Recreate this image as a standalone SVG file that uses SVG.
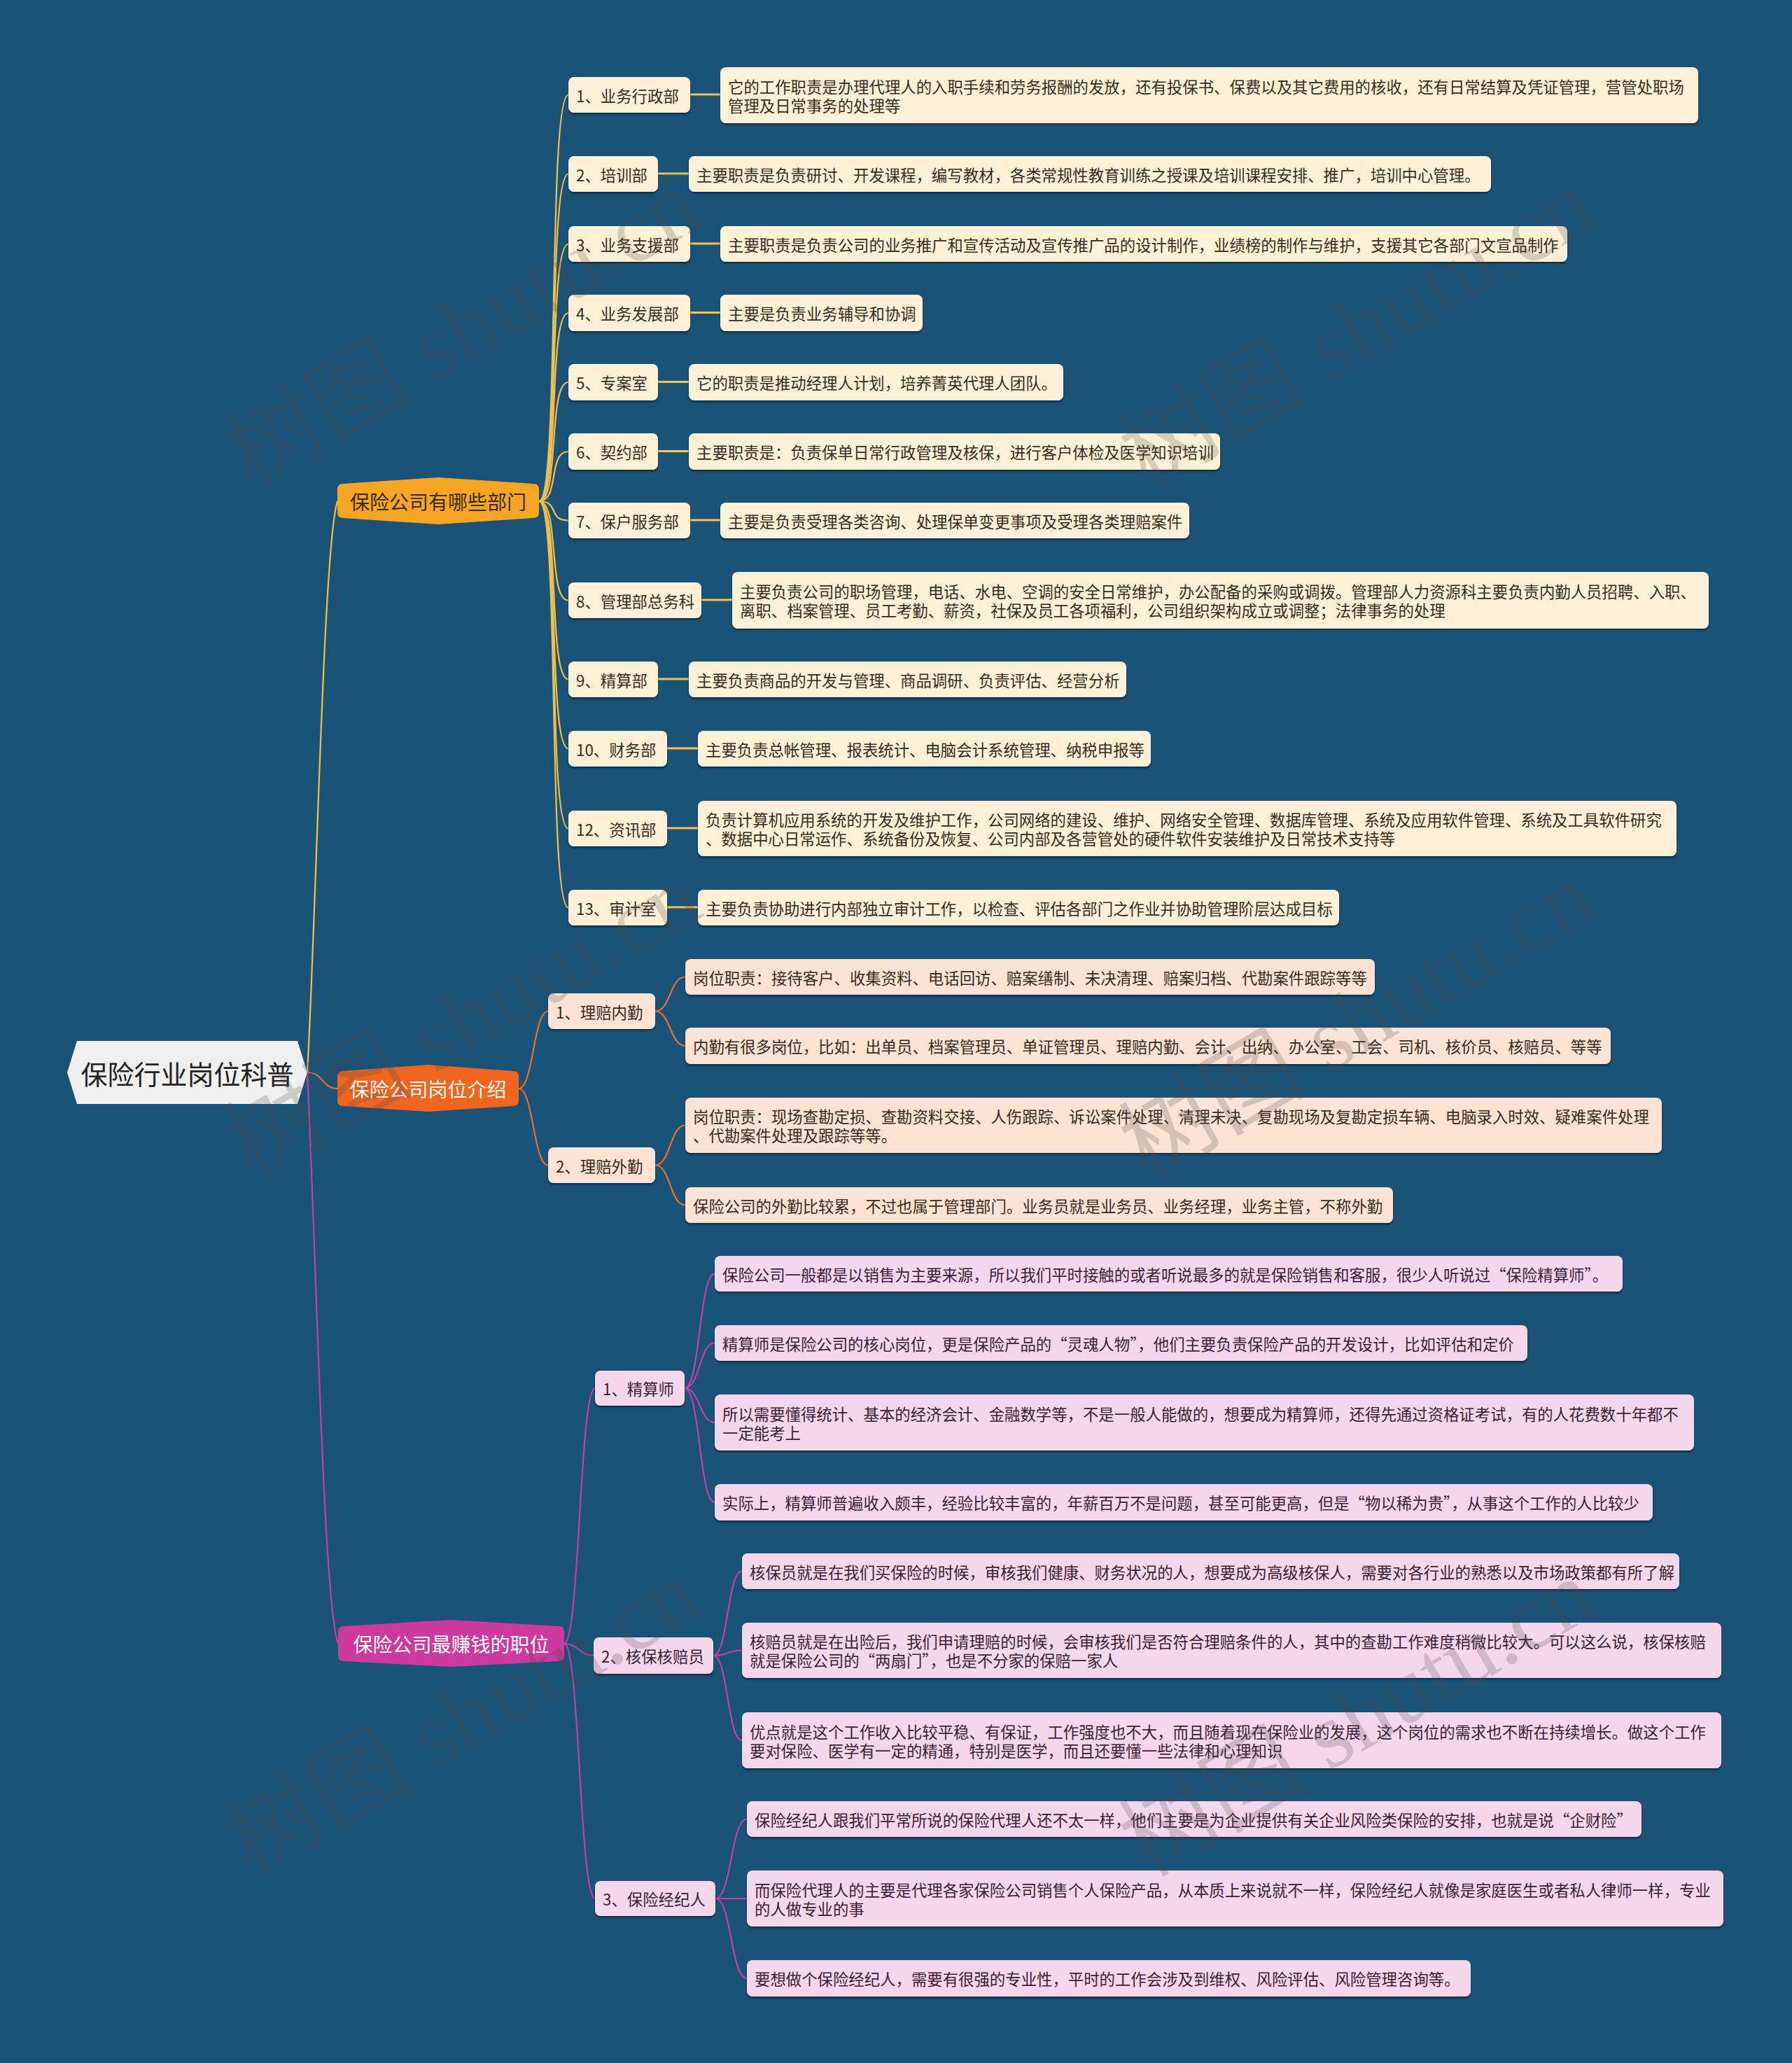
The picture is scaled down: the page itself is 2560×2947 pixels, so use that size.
<svg xmlns="http://www.w3.org/2000/svg" width="2560" height="2947" viewBox="0 0 2560 2947">
<defs>
<style>
text{font-family:"Noto Sans CJK SC","Noto Sans",sans-serif;dominant-baseline:central}
.t{font-size:22.4px;fill:#3a2a1c}
.tp{font-size:22.4px;fill:#3a1f33}
.k1 rect{fill:#FEF1D8;filter:url(#sh)}
.k2 rect{fill:#FDE3D3;filter:url(#sh)}
.k3 rect{fill:#F5D7EC;filter:url(#sh)}
.c1{fill:none;stroke:#F2C04A;stroke-width:2.2}
.c2{fill:none;stroke:#E3702C;stroke-width:2.2}
.c3{fill:none;stroke:#C03FAE;stroke-width:2.2}
.h1{stroke:#E8C66A;stroke-width:3}
.h1d{stroke:#5a4a22;stroke-width:1.4}
.wm{font-family:"Liberation Serif","Noto Sans CJK SC",serif;font-size:134px;fill:#4a4a4a;fill-opacity:0.22;dominant-baseline:auto}
</style>
<filter id="sh" x="-5%" y="-20%" width="110%" height="150%">
<feDropShadow dx="0" dy="2.5" stdDeviation="0.8" flood-color="#0b2333" flood-opacity="0.75"/>
</filter>
</defs>
<rect width="2560" height="2947" fill="#1B5378"/>

<g id="connectors">
<path class="c1" stroke-width="3" d="M439 1532 C452 1300 462 780 482 716"/>
<path class="c2" stroke-width="3" d="M439 1532 C462 1532 460 1555 482 1555"/>
<path class="c3" stroke-width="3" d="M439 1532 C452 1800 462 2290 483 2348"/>
<path class="c1" d="M770 716 C800 716 782 135.5 812 135.5"/>
<path class="c1" d="M770 716 C800 716 782 248.5 812 248.5"/>
<path class="c1" d="M770 716 C800 716 782 348.5 812 348.5"/>
<path class="c1" d="M770 716 C800 716 782 447 812 447"/>
<path class="c1" d="M770 716 C800 716 782 546 812 546"/>
<path class="c1" d="M770 716 C800 716 782 645 812 645"/>
<path class="c1" d="M770 716 C800 716 782 743.5 812 743.5"/>
<path class="c1" d="M770 716 C800 716 782 857.5 812 857.5"/>
<path class="c1" d="M770 716 C800 716 782 970.5 812 970.5"/>
<path class="c1" d="M770 716 C800 716 782 1069.5 812 1069.5"/>
<path class="c1" d="M770 716 C800 716 782 1183.5 812 1183.5"/>
<path class="c1" d="M770 716 C800 716 782 1296.5 812 1296.5"/>
<g>
<line class="h1" x1="986" y1="135" x2="1029" y2="135"/><line class="h1d" x1="986" y1="137.5" x2="1029" y2="137.5"/>
<line class="h1" x1="940" y1="248" x2="984" y2="248"/><line class="h1d" x1="940" y1="250.5" x2="984" y2="250.5"/>
<line class="h1" x1="986" y1="348" x2="1029" y2="348"/><line class="h1d" x1="986" y1="350.5" x2="1029" y2="350.5"/>
<line class="h1" x1="986" y1="446.5" x2="1029" y2="446.5"/><line class="h1d" x1="986" y1="449" x2="1029" y2="449"/>
<line class="h1" x1="940" y1="545.5" x2="984" y2="545.5"/><line class="h1d" x1="940" y1="548" x2="984" y2="548"/>
<line class="h1" x1="940" y1="644.5" x2="984" y2="644.5"/><line class="h1d" x1="940" y1="647" x2="984" y2="647"/>
<line class="h1" x1="986" y1="743" x2="1029" y2="743"/><line class="h1d" x1="986" y1="745.5" x2="1029" y2="745.5"/>
<line class="h1" x1="1002" y1="857" x2="1046" y2="857"/><line class="h1d" x1="1002" y1="859.5" x2="1046" y2="859.5"/>
<line class="h1" x1="940" y1="970" x2="984" y2="970"/><line class="h1d" x1="940" y1="972.5" x2="984" y2="972.5"/>
<line class="h1" x1="953" y1="1069" x2="997" y2="1069"/><line class="h1d" x1="953" y1="1071.5" x2="997" y2="1071.5"/>
<line class="h1" x1="953" y1="1183" x2="997" y2="1183"/><line class="h1d" x1="953" y1="1185.5" x2="997" y2="1185.5"/>
<line class="h1" x1="953" y1="1296" x2="997" y2="1296"/><line class="h1d" x1="953" y1="1298.5" x2="997" y2="1298.5"/>
</g>
<path class="c2" d="M741 1555 C762 1555 762 1444.5 783 1444.5"/>
<path class="c2" d="M741 1555 C762 1555 762 1664.5 783 1664.5"/>
<path class="c2" d="M936 1444.5 C958 1444.5 957 1395.5 979 1395.5"/>
<path class="c2" d="M936 1444.5 C958 1444.5 957 1494 979 1494"/>
<path class="c2" d="M936 1664.5 C958 1664.5 957 1607.5 979 1607.5"/>
<path class="c2" d="M936 1664.5 C958 1664.5 957 1721.5 979 1721.5"/>
<path class="c3" d="M806 2348 C828 2348 828 1983 850 1983"/>
<path class="c3" d="M806 2348 C827 2348 827 2365 848 2365"/>
<path class="c3" d="M806 2348 C828 2348 828 2712 850 2712"/>
<path class="c3" d="M978 1983 C1000 1983 999 1819.5 1021 1819.5"/>
<path class="c3" d="M978 1983 C1000 1983 999 1918.5 1021 1918.5"/>
<path class="c3" d="M978 1983 C1000 1983 999 2032 1021 2032"/>
<path class="c3" d="M978 1983 C1000 1983 999 2146 1021 2146"/>
<path class="c3" d="M1019 2365 C1040 2365 1039 2244.5 1060 2244.5"/>
<path class="c3" d="M1019 2365 C1040 2365 1039 2357.5 1060 2357.5"/>
<path class="c3" d="M1019 2365 C1040 2365 1039 2486 1060 2486"/>
<path class="c3" d="M1022 2712 C1045 2712 1044 2598.5 1067 2598.5"/>
<path class="c3" d="M1022 2712 C1045 2712 1044 2712 1067 2712"/>
<path class="c3" d="M1022 2712 C1045 2712 1044 2826 1067 2826"/>
</g>

<g id="root">
<polygon points="96,1532 110,1487 425,1487 439,1532 425,1577 110,1577" fill="#EFEFEF"/>
<text x="267.5" y="1532" font-size="38" fill="#222" text-anchor="middle">保险行业岗位科普</text>
</g>

<g id="b1">
<path d="M490 691 L626 682 L762 691 Q770 691 770 699 L770 732 Q770 740 762 740 L626 749 L490 740 Q482 740 482 732 L482 699 Q482 691 490 691 Z" fill="#F6A623"/>
<text x="626" y="716" font-size="28" fill="#3a2a10" text-anchor="middle">保险公司有哪些部门</text>
</g>
<g id="b2">
<path d="M490 1530 L611.5 1521 L733 1530 Q741 1530 741 1538 L741 1572 Q741 1580 733 1580 L611.5 1588 L490 1580 Q482 1580 482 1572 L482 1538 Q482 1530 490 1530 Z" fill="#F0661E"/>
<text x="611.5" y="1555" font-size="28" fill="#fff" text-anchor="middle">保险公司岗位介绍</text>
</g>
<g id="b3">
<path d="M491 2323 L644.5 2314 L798 2323 Q806 2323 806 2331 L806 2365 Q806 2373 798 2373 L644.5 2381 L491 2373 Q483 2373 483 2365 L483 2331 Q483 2323 491 2323 Z" fill="#CB3A9C"/>
<text x="644.5" y="2348" font-size="28" fill="#fff" text-anchor="middle">保险公司最赚钱的职位</text>
</g>

<g id="b1-1" class="k1"><rect x="812" y="110" width="174" height="51" rx="8"/><text class="t" x="823" y="135.5">1、业务行政部</text></g>
<g id="b1-1d" class="k1"><rect x="1029" y="96" width="1397" height="80" rx="8"/><text class="t" x="1040" y="122.5">它的工作职责是办理代理人的入职手续和劳务报酬的发放，还有投保书、保费以及其它费用的核收，还有日常结算及凭证管理，营管处职场</text><text class="t" x="1040" y="149.5">管理及日常事务的处理等</text></g>
<g id="b1-2" class="k1"><rect x="812" y="223" width="128" height="51" rx="8"/><text class="t" x="823" y="248.5">2、培训部</text></g>
<g id="b1-2d" class="k1"><rect x="984" y="223" width="1146" height="51" rx="8"/><text class="t" x="995" y="248.5">主要职责是负责研讨、开发课程，编写教材，各类常规性教育训练之授课及培训课程安排、推广，培训中心管理。</text></g>
<g id="b1-3" class="k1"><rect x="812" y="323" width="174" height="51" rx="8"/><text class="t" x="823" y="348.5">3、业务支援部</text></g>
<g id="b1-3d" class="k1"><rect x="1029" y="323" width="1210" height="51" rx="8"/><text class="t" x="1040" y="348.5">主要职责是负责公司的业务推广和宣传活动及宣传推广品的设计制作，业绩榜的制作与维护，支援其它各部门文宣品制作</text></g>
<g id="b1-4" class="k1"><rect x="812" y="421" width="174" height="52" rx="8"/><text class="t" x="823" y="447">4、业务发展部</text></g>
<g id="b1-4d" class="k1"><rect x="1029" y="421" width="289" height="52" rx="8"/><text class="t" x="1040" y="447">主要是负责业务辅导和协调</text></g>
<g id="b1-5" class="k1"><rect x="812" y="520" width="128" height="52" rx="8"/><text class="t" x="823" y="546">5、专案室</text></g>
<g id="b1-5d" class="k1"><rect x="984" y="520" width="535" height="52" rx="8"/><text class="t" x="995" y="546">它的职责是推动经理人计划，培养菁英代理人团队。</text></g>
<g id="b1-6" class="k1"><rect x="812" y="619" width="128" height="52" rx="8"/><text class="t" x="823" y="645">6、契约部</text></g>
<g id="b1-6d" class="k1"><rect x="984" y="619" width="759" height="52" rx="8"/><text class="t" x="995" y="645">主要职责是：负责保单日常行政管理及核保，进行客户体检及医学知识培训</text></g>
<g id="b1-7" class="k1"><rect x="812" y="718" width="174" height="51" rx="8"/><text class="t" x="823" y="743.5">7、保户服务部</text></g>
<g id="b1-7d" class="k1"><rect x="1029" y="718" width="670" height="51" rx="8"/><text class="t" x="1040" y="743.5">主要是负责受理各类咨询、处理保单变更事项及受理各类理赔案件</text></g>
<g id="b1-8" class="k1"><rect x="812" y="832" width="190" height="51" rx="8"/><text class="t" x="823" y="857.5">8、管理部总务科</text></g>
<g id="b1-8d" class="k1"><rect x="1046" y="817" width="1395" height="81" rx="8"/><text class="t" x="1057" y="844">主要负责公司的职场管理，电话、水电、空调的安全日常维护，办公配备的采购或调拨。管理部人力资源科主要负责内勤人员招聘、入职、</text><text class="t" x="1057" y="871">离职、档案管理、员工考勤、薪资，社保及员工各项福利，公司组织架构成立或调整；法律事务的处理</text></g>
<g id="b1-9" class="k1"><rect x="812" y="945" width="128" height="51" rx="8"/><text class="t" x="823" y="970.5">9、精算部</text></g>
<g id="b1-9d" class="k1"><rect x="984" y="945" width="625" height="51" rx="8"/><text class="t" x="995" y="970.5">主要负责商品的开发与管理、商品调研、负责评估、经营分析</text></g>
<g id="b1-10" class="k1"><rect x="812" y="1044" width="141" height="51" rx="8"/><text class="t" x="823" y="1069.5">10、财务部</text></g>
<g id="b1-10d" class="k1"><rect x="997" y="1044" width="647" height="51" rx="8"/><text class="t" x="1008" y="1069.5">主要负责总帐管理、报表统计、电脑会计系统管理、纳税申报等</text></g>
<g id="b1-12" class="k1"><rect x="812" y="1158" width="141" height="51" rx="8"/><text class="t" x="823" y="1183.5">12、资讯部</text></g>
<g id="b1-12d" class="k1"><rect x="997" y="1144" width="1398" height="79" rx="8"/><text class="t" x="1008" y="1170">负责计算机应用系统的开发及维护工作，公司网络的建设、维护、网络安全管理、数据库管理、系统及应用软件管理、系统及工具软件研究</text><text class="t" x="1008" y="1197">、数据中心日常运作、系统备份及恢复、公司内部及各营管处的硬件软件安装维护及日常技术支持等</text></g>
<g id="b1-13" class="k1"><rect x="812" y="1271" width="141" height="51" rx="8"/><text class="t" x="823" y="1296.5">13、审计室</text></g>
<g id="b1-13d" class="k1"><rect x="997" y="1271" width="916" height="51" rx="8"/><text class="t" x="1008" y="1296.5">主要负责协助进行内部独立审计工作，以检查、评估各部门之作业并协助管理阶层达成目标</text></g>

<g id="b2-1" class="k2"><rect x="783" y="1419" width="153" height="51" rx="8"/><text class="t" x="794" y="1444.5">1、理赔内勤</text></g>
<g id="b2-1a" class="k2"><rect x="979" y="1370" width="985" height="51" rx="8"/><text class="t" x="990" y="1395.5">岗位职责：接待客户、收集资料、电话回访、赔案缮制、未决清理、赔案归档、代勘案件跟踪等等</text></g>
<g id="b2-1b" class="k2"><rect x="979" y="1468" width="1322" height="52" rx="8"/><text class="t" x="990" y="1494">内勤有很多岗位，比如：出单员、档案管理员、单证管理员、理赔内勤、会计、出纳、办公室、工会、司机、核价员、核赔员、等等</text></g>
<g id="b2-2" class="k2"><rect x="783" y="1639" width="153" height="51" rx="8"/><text class="t" x="794" y="1664.5">2、理赔外勤</text></g>
<g id="b2-2a" class="k2"><rect x="979" y="1568" width="1395" height="79" rx="8"/><text class="t" x="990" y="1594">岗位职责：现场查勘定损、查勘资料交接、人伤跟踪、诉讼案件处理、清理未决、复勘现场及复勘定损车辆、电脑录入时效、疑难案件处理</text><text class="t" x="990" y="1621">、代勘案件处理及跟踪等等。</text></g>
<g id="b2-2b" class="k2"><rect x="979" y="1696" width="1011" height="51" rx="8"/><text class="t" x="990" y="1721.5">保险公司的外勤比较累，不过也属于管理部门。业务员就是业务员、业务经理，业务主管，不称外勤</text></g>

<g id="b3-1" class="k3"><rect x="850" y="1958" width="128" height="50" rx="8"/><text class="tp" x="861" y="1983">1、精算师</text></g>
<g id="b3-1a" class="k3"><rect x="1021" y="1794" width="1297" height="51" rx="8"/><text class="tp" x="1032" y="1819.5">保险公司一般都是以销售为主要来源，所以我们平时接触的或者听说最多的就是保险销售和客服，很少人听说过“保险精算师”。</text></g>
<g id="b3-1b" class="k3"><rect x="1021" y="1893" width="1161" height="51" rx="8"/><text class="tp" x="1032" y="1918.5">精算师是保险公司的核心岗位，更是保险产品的“灵魂人物”，他们主要负责保险产品的开发设计，比如评估和定价</text></g>
<g id="b3-1c" class="k3"><rect x="1021" y="1992" width="1399" height="80" rx="8"/><text class="tp" x="1032" y="2018.5">所以需要懂得统计、基本的经济会计、金融数学等，不是一般人能做的，想要成为精算师，还得先通过资格证考试，有的人花费数十年都不</text><text class="tp" x="1032" y="2045.5">一定能考上</text></g>
<g id="b3-1d" class="k3"><rect x="1021" y="2120" width="1340" height="52" rx="8"/><text class="tp" x="1032" y="2146">实际上，精算师普遍收入颇丰，经验比较丰富的，年薪百万不是问题，甚至可能更高，但是“物以稀为贵”，从事这个工作的人比较少</text></g>
<g id="b3-2" class="k3"><rect x="848" y="2339" width="171" height="52" rx="8"/><text class="tp" x="859" y="2365">2、核保核赔员</text></g>
<g id="b3-2a" class="k3"><rect x="1060" y="2219" width="1339" height="51" rx="8"/><text class="tp" x="1071" y="2244.5">核保员就是在我们买保险的时候，审核我们健康、财务状况的人，想要成为高级核保人，需要对各行业的熟悉以及市场政策都有所了解</text></g>
<g id="b3-2b" class="k3"><rect x="1060" y="2318" width="1399" height="79" rx="8"/><text class="tp" x="1071" y="2344">核赔员就是在出险后，我们申请理赔的时候，会审核我们是否符合理赔条件的人，其中的查勘工作难度稍微比较大。可以这么说，核保核赔</text><text class="tp" x="1071" y="2371">就是保险公司的“两扇门”，也是不分家的保赔一家人</text></g>
<g id="b3-2c" class="k3"><rect x="1060" y="2446" width="1399" height="80" rx="8"/><text class="tp" x="1071" y="2472.5">优点就是这个工作收入比较平稳、有保证，工作强度也不大，而且随着现在保险业的发展，这个岗位的需求也不断在持续增长。做这个工作</text><text class="tp" x="1071" y="2499.5">要对保险、医学有一定的精通，特别是医学，而且还要懂一些法律和心理知识</text></g>
<g id="b3-3" class="k3"><rect x="850" y="2687" width="172" height="50" rx="8"/><text class="tp" x="861" y="2712">3、保险经纪人</text></g>
<g id="b3-3a" class="k3"><rect x="1067" y="2573" width="1278" height="51" rx="8"/><text class="tp" x="1078" y="2598.5">保险经纪人跟我们平常所说的保险代理人还不太一样，他们主要是为企业提供有关企业风险类保险的安排，也就是说“企财险”</text></g>
<g id="b3-3b" class="k3"><rect x="1067" y="2672" width="1395" height="80" rx="8"/><text class="tp" x="1078" y="2698.5">而保险代理人的主要是代理各家保险公司销售个人保险产品，从本质上来说就不一样，保险经纪人就像是家庭医生或者私人律师一样，专业</text><text class="tp" x="1078" y="2725.5">的人做专业的事</text></g>
<g id="b3-3c" class="k3"><rect x="1067" y="2800" width="1034" height="52" rx="8"/><text class="tp" x="1078" y="2826">要想做个保险经纪人，需要有很强的专业性，平时的工作会涉及到维权、风险评估、风险管理咨询等。</text></g>

<g id="watermark">
<text class="wm" transform="translate(360 700) rotate(-30.4)">树图 shutu.cn</text>
<text class="wm" transform="translate(1638 700) rotate(-30.4)">树图 shutu.cn</text>
<text class="wm" transform="translate(360 1687) rotate(-30.4)">树图 shutu.cn</text>
<text class="wm" transform="translate(1638 1687) rotate(-30.4)">树图 shutu.cn</text>
<text class="wm" transform="translate(360 2683) rotate(-30.4)">树图 shutu.cn</text>
<text class="wm" transform="translate(1638 2683) rotate(-30.4)">树图 shutu.cn</text>
</g>
</svg>
